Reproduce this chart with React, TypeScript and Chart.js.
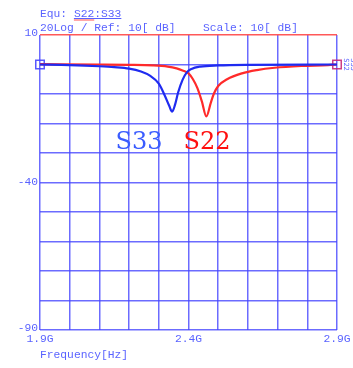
import React, { useEffect, useRef } from "react";
import { Chart, registerables } from "chart.js";

Chart.register(...registerables);

// Frequency sweep (GHz) and return loss traces (dB)
const s33Freq = [1.9, 2.0, 2.1, 2.15, 2.2, 2.24, 2.27, 2.3, 2.32, 2.335, 2.345, 2.355, 2.365, 2.38, 2.395, 2.41, 2.44, 2.5, 2.6, 2.9];
const s33Db = [0.0, -0.2, -0.6, -0.9, -1.4, -2.4, -3.8, -6.5, -10.5, -14.0, -16.0, -13.5, -9.5, -5.2, -2.6, -1.5, -0.7, -0.3, -0.1, 0.0];

const s22Freq = [1.9, 2.1, 2.2, 2.28, 2.33, 2.36, 2.38, 2.4, 2.415, 2.43, 2.445, 2.46, 2.475, 2.485, 2.5, 2.53, 2.58, 2.63, 2.69, 2.78, 2.87, 2.9];
const s22Db = [0.1, 0.0, -0.1, -0.3, -0.7, -1.3, -2.0, -3.0, -5.0, -8.0, -12.5, -17.6, -13.0, -10.0, -7.3, -5.0, -3.0, -1.9, -1.1, -0.5, -0.2, 0.0];

// Axis range and labels
const freqMin = 1.9;
const freqMax = 2.9;
const freqStep = 0.1;
const freqLabels = [1.9, 2.4, 2.9];
const dbMin = -90;
const dbMax = 10;
const dbStep = 10;
const dbLabels = [10, -40, -90];
const refLevel = 0;

const headerLines = ["Equ: S22:S33", "20Log / Ref: 10[ dB]", "Scale: 10[ dB]"];
const xTitle = "Frequency[Hz]";

const GRID = "rgba(70,70,255,0.8)";
const TEXT = "rgba(60,70,255,0.85)";
const BLUE = "#1f2bf0";
const RED = "#ff2a2a";
const MONO = "11.3px 'Liberation Mono', 'DejaVu Sans Mono', monospace";

const annotate = {
  id: "annotate",
  afterDraw(chart: any) {
    const { ctx, scales } = chart;
    const x = scales.x;
    const y = scales.y;
    ctx.save();
    ctx.fillStyle = TEXT;
    ctx.font = MONO;
    ctx.textBaseline = "alphabetic";
    ctx.textAlign = "left";
    // header block
    ctx.fillText(headerLines[0], 40, 17);
    const pre = ctx.measureText("Equ: ").width;
    const eqW = ctx.measureText("S22:S33").width;
    const s22W = ctx.measureText("S22").width;
    ctx.fillRect(40 + pre, 18, eqW, 1);
    ctx.fillStyle = "rgba(255,60,60,0.9)";
    ctx.fillRect(40 + pre, 19.5, s22W, 1);
    ctx.fillStyle = TEXT;
    ctx.fillText(headerLines[1], 40, 31);
    ctx.fillText(headerLines[2], 203, 31);

    // y labels
    ctx.textAlign = "right";
    ctx.textBaseline = "middle";
    dbLabels.forEach((v) => {
      let py = y.getPixelForValue(v);
      if (v === dbMax || v === dbMin) py -= 2;
      ctx.fillText(String(v), 38, py);
    });

    // x labels
    ctx.textAlign = "center";
    freqLabels.forEach((f) => {
      ctx.fillText(f.toFixed(1) + "G", x.getPixelForValue(f), 339);
    });
    ctx.textAlign = "left";
    ctx.fillText(xTitle, 40, 355);

    // trace names on the right edge
    ctx.font = "7px 'DejaVu Sans Mono', monospace";
    ctx.translate(345, y.getPixelForValue(refLevel));
    ctx.rotate(Math.PI / 2);
    ctx.textAlign = "center";
    ctx.fillText("S22", 0, -1);
    ctx.fillText("S33", 0, -8);
    ctx.restore();

    // trace captions
    ctx.save();
    ctx.font = "24px 'DejaVu Serif', serif";
    ctx.textAlign = "center";
    ctx.textBaseline = "alphabetic";
    ctx.fillStyle = "#3a5cff";
    ctx.fillText("S33", 139, 149);
    ctx.fillStyle = "#ff1010";
    ctx.fillText("S22", 207, 149);
    ctx.restore();
  },
};

function App() {
  const ref = useRef<HTMLCanvasElement | null>(null);

  useEffect(() => {
    if (!ref.current) return;
    const chart = new Chart(ref.current, {
      type: "line",
      data: {
        datasets: [
          {
            label: "S33",
            data: s33Freq.map((f, i) => ({ x: f, y: s33Db[i] })),
            borderColor: BLUE,
            borderWidth: 2.2,
            pointRadius: 0,
            cubicInterpolationMode: "monotone",
          },
          {
            label: "S22",
            data: s22Freq.map((f, i) => ({ x: f, y: s22Db[i] })),
            borderColor: RED,
            borderWidth: 2.2,
            pointRadius: 0,
            cubicInterpolationMode: "monotone",
          },
          {
            label: "ref",
            data: [
              { x: freqMin, y: refLevel },
              { x: freqMax, y: refLevel },
            ],
            showLine: false,
            clip: false,
            pointStyle: "rect",
            pointRadius: 6,
            pointBorderWidth: 1.5,
            pointBackgroundColor: "rgba(0,0,0,0)",
            pointBorderColor: ["rgba(70,70,255,0.9)", "rgba(200,40,120,0.9)"],
          },
        ],
      },
      options: {
        responsive: false,
        animation: false,
        layout: { padding: { left: 40, top: 35, right: 16, bottom: 38 } },
        plugins: { legend: { display: false }, tooltip: { enabled: false } },
        scales: {
          x: {
            type: "linear",
            min: freqMin,
            max: freqMax,
            ticks: { display: false, stepSize: freqStep },
            grid: { color: GRID, lineWidth: 1.5, drawTicks: false },
            border: { display: false },
          },
          y: {
            type: "linear",
            min: dbMin,
            max: dbMax,
            ticks: { display: false, stepSize: dbStep },
            grid: {
              color: (c: any) => (c.tick && c.tick.value === dbMax ? "rgba(255,70,70,0.9)" : GRID),
              lineWidth: 1.5,
              drawTicks: false,
            },
            border: { display: false },
          },
        },
      },
      plugins: [annotate],
    });
    return () => chart.destroy();
  }, []);

  return (
    <div style={{ position: "absolute", left: 0, top: 0, width: 353, height: 368, background: "#fff" }}>
      <canvas ref={ref} width={353} height={368} />
    </div>
  );
}

export default App;
